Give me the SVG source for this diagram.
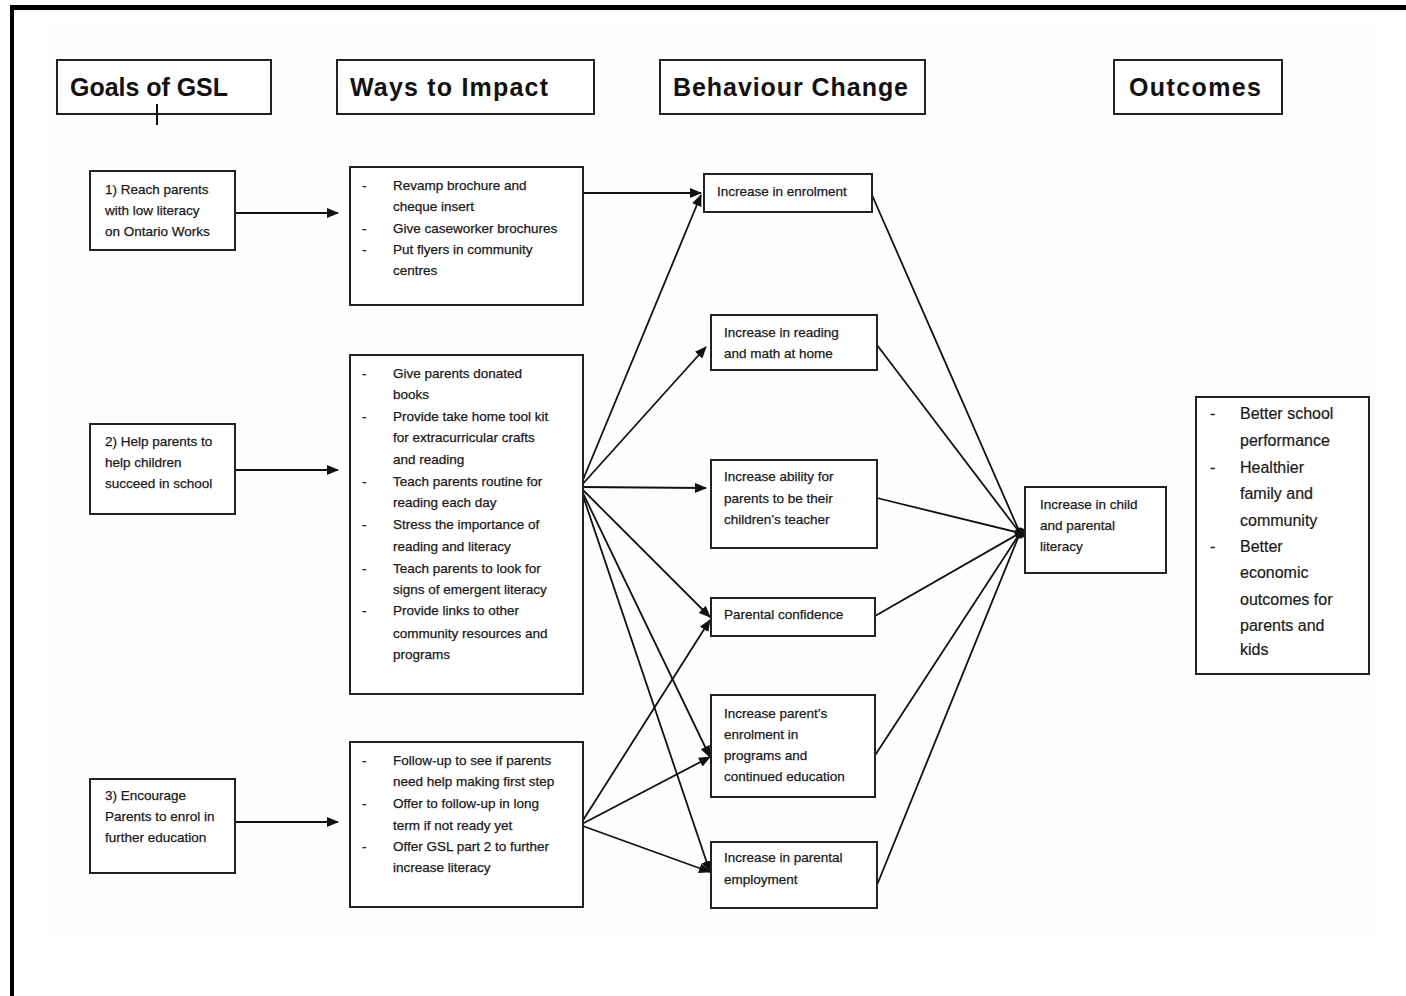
<svg xmlns="http://www.w3.org/2000/svg" width="1406" height="996" viewBox="0 0 1406 996">
<style>
.box{fill:#fff;stroke:#222;stroke-width:2}
.hd{font-family:"Liberation Sans",Arial,sans-serif;font-weight:bold;font-size:25px;fill:#111}
.t{font-family:"Liberation Sans",Arial,sans-serif;font-size:13.5px;fill:#1a1a1a;stroke:#1a1a1a;stroke-width:0.25}
.o{font-family:"Liberation Sans",Arial,sans-serif;font-size:16px;fill:#1a1a1a;stroke:#1a1a1a;stroke-width:0.2}
.c{fill:none;stroke:#111;stroke-width:1.8}
.a{fill:none;stroke:#111;stroke-width:1.8;marker-end:url(#ah)}
</style>
<defs>
<marker id="ah" markerWidth="12" markerHeight="10" refX="11" refY="5" orient="auto" markerUnits="userSpaceOnUse">
<path d="M0,0 L12,5 L0,10 Z" fill="#111"/>
</marker>
</defs>
<rect x="0" y="0" width="1406" height="996" fill="#fff"/>
<rect x="42" y="20" width="1340" height="922" fill="#fefefe"/>
<line x1="10" y1="7.5" x2="1406" y2="7.5" stroke="#000" stroke-width="5"/>
<line x1="12" y1="5" x2="12" y2="996" stroke="#000" stroke-width="4"/>

<g id="h-goals"><rect class="box" x="57" y="60" width="214" height="54"/><text class="hd" x="70" y="96" textLength="158">Goals of GSL</text><line x1="157" y1="104" x2="157" y2="125" stroke="#111" stroke-width="2"/></g>
<g id="h-ways"><rect class="box" x="337" y="60" width="257" height="54"/><text class="hd" x="350" y="96" textLength="198">Ways to Impact</text></g>
<g id="h-beh"><rect class="box" x="660" y="60" width="265" height="54"/><text class="hd" x="673" y="96" textLength="235">Behaviour Change</text></g>
<g id="h-out"><rect class="box" x="1114" y="60" width="168" height="54"/><text class="hd" x="1129" y="96" textLength="132">Outcomes</text></g>

<g id="connectors">
<line class="a" x1="235" y1="213" x2="338" y2="213"/>
<line class="a" x1="235" y1="470" x2="338" y2="470"/>
<line class="a" x1="235" y1="822" x2="338" y2="822"/>
<line class="a" x1="583" y1="193" x2="701" y2="193"/>
<line class="a" x1="580" y1="487" x2="701" y2="195"/>
<line class="a" x1="580" y1="487" x2="706" y2="347"/>
<line class="a" x1="580" y1="487" x2="706" y2="488"/>
<line class="a" x1="580" y1="487" x2="710" y2="617"/>
<line class="a" x1="580" y1="487" x2="710" y2="757"/>
<line class="a" x1="580" y1="487" x2="710" y2="872"/>
<line class="a" x1="580" y1="825" x2="710" y2="620"/>
<line class="a" x1="580" y1="825" x2="710" y2="757"/>
<line class="a" x1="580" y1="825" x2="710" y2="872"/>
<line class="c" x1="872" y1="195" x2="1020" y2="533"/>
<line class="c" x1="877" y1="345" x2="1020" y2="533"/>
<line class="c" x1="877" y1="498" x2="1020" y2="533"/>
<line class="c" x1="875" y1="616" x2="1020" y2="533"/>
<line class="c" x1="872" y1="760" x2="1020" y2="533"/>
<line class="c" x1="877" y1="885" x2="1020" y2="533"/>
<circle cx="1020" cy="533" r="5.5" fill="#111"/>
</g>

<g id="goal1"><rect class="box" x="90" y="171" width="145" height="79"/>
<text class="t" x="105" y="194">1) Reach parents</text><text class="t" x="105" y="215">with low literacy</text><text class="t" x="105" y="236">on Ontario Works</text></g>
<g id="goal2"><rect class="box" x="90" y="424" width="145" height="90"/>
<text class="t" x="105" y="446">2) Help parents to</text><text class="t" x="105" y="467">help children</text><text class="t" x="105" y="488">succeed in school</text></g>
<g id="goal3"><rect class="box" x="90" y="779" width="145" height="94"/>
<text class="t" x="105" y="800">3) Encourage</text><text class="t" x="105" y="821">Parents to enrol in</text><text class="t" x="105" y="842">further education</text></g>

<g id="ways1"><rect class="box" x="350" y="167" width="233" height="138"/>
<text class="t" x="362" y="190">-</text><text class="t" x="393" y="190">Revamp brochure and</text>
<text class="t" x="393" y="211">cheque insert</text>
<text class="t" x="362" y="233">-</text><text class="t" x="393" y="233">Give caseworker brochures</text>
<text class="t" x="362" y="254">-</text><text class="t" x="393" y="254">Put flyers in community</text>
<text class="t" x="393" y="275">centres</text></g>

<g id="ways2"><rect class="box" x="350" y="355" width="233" height="339"/>
<text class="t" x="362" y="378">-</text><text class="t" x="393" y="378">Give parents donated</text>
<text class="t" x="393" y="399">books</text>
<text class="t" x="362" y="421">-</text><text class="t" x="393" y="421">Provide take home tool kit</text>
<text class="t" x="393" y="442">for extracurricular crafts</text>
<text class="t" x="393" y="464">and reading</text>
<text class="t" x="362" y="486">-</text><text class="t" x="393" y="486">Teach parents routine for</text>
<text class="t" x="393" y="507">reading each day</text>
<text class="t" x="362" y="529">-</text><text class="t" x="393" y="529">Stress the importance of</text>
<text class="t" x="393" y="551">reading and literacy</text>
<text class="t" x="362" y="573">-</text><text class="t" x="393" y="573">Teach parents to look for</text>
<text class="t" x="393" y="594">signs of emergent literacy</text>
<text class="t" x="362" y="615">-</text><text class="t" x="393" y="615">Provide links to other</text>
<text class="t" x="393" y="638">community resources and</text>
<text class="t" x="393" y="659">programs</text></g>

<g id="ways3"><rect class="box" x="350" y="742" width="233" height="165"/>
<text class="t" x="362" y="765">-</text><text class="t" x="393" y="765">Follow-up to see if parents</text>
<text class="t" x="393" y="786">need help making first step</text>
<text class="t" x="362" y="808">-</text><text class="t" x="393" y="808">Offer to follow-up in long</text>
<text class="t" x="393" y="830">term if not ready yet</text>
<text class="t" x="362" y="851">-</text><text class="t" x="393" y="851">Offer GSL part 2 to further</text>
<text class="t" x="393" y="872">increase literacy</text></g>

<g id="beh1"><rect class="box" x="704" y="174" width="168" height="38"/><text class="t" x="717" y="196">Increase in enrolment</text></g>
<g id="beh2"><rect class="box" x="711" y="315" width="166" height="55"/><text class="t" x="724" y="337">Increase in reading</text><text class="t" x="724" y="358">and math at home</text></g>
<g id="beh3"><rect class="box" x="711" y="460" width="166" height="88"/><text class="t" x="724" y="481">Increase ability for</text><text class="t" x="724" y="503">parents to be their</text><text class="t" x="724" y="524">children’s teacher</text></g>
<g id="beh4"><rect class="box" x="711" y="598" width="164" height="38"/><text class="t" x="724" y="619">Parental confidence</text></g>
<g id="beh5"><rect class="box" x="711" y="695" width="164" height="102"/><text class="t" x="724" y="718">Increase parent’s</text><text class="t" x="724" y="739">enrolment in</text><text class="t" x="724" y="760">programs and</text><text class="t" x="724" y="781">continued education</text></g>
<g id="beh6"><rect class="box" x="711" y="842" width="166" height="66"/><text class="t" x="724" y="862">Increase in parental</text><text class="t" x="724" y="884">employment</text></g>

<g id="literacy"><rect class="box" x="1025" y="487" width="141" height="86"/><text class="t" x="1040" y="509">Increase in child</text><text class="t" x="1040" y="530">and parental</text><text class="t" x="1040" y="551">literacy</text></g>

<g id="outcomes"><rect class="box" x="1196" y="397" width="173" height="277"/>
<text class="o" x="1210" y="419">-</text><text class="o" x="1240" y="419">Better school</text>
<text class="o" x="1240" y="446">performance</text>
<text class="o" x="1210" y="473">-</text><text class="o" x="1240" y="473">Healthier</text>
<text class="o" x="1240" y="499">family and</text>
<text class="o" x="1240" y="526">community</text>
<text class="o" x="1210" y="552">-</text><text class="o" x="1240" y="552">Better</text>
<text class="o" x="1240" y="578">economic</text>
<text class="o" x="1240" y="605">outcomes for</text>
<text class="o" x="1240" y="631">parents and</text>
<text class="o" x="1240" y="655">kids</text></g>
</svg>
